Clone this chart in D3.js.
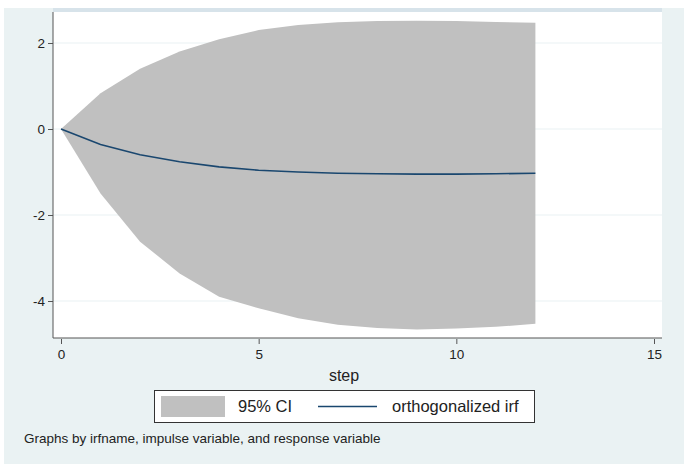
<!DOCTYPE html>
<html>
<head>
<meta charset="utf-8">
<script src="https://cdn.jsdelivr.net/npm/d3@7"></script>
<style>
  html, body { margin: 0; padding: 0; background: #fff; }
  svg { display: block; font-family: "Liberation Sans", Arial, sans-serif; }
</style>
</head>
<body>
<div id="chart"></div>
<script>
// irf values, step 0..12
const steps = [0, 1, 2, 3, 4, 5, 6, 7, 8, 9, 10, 11, 12]
const irf   = [0, -0.36, -0.60, -0.76, -0.88, -0.96, -1.00, -1.03, -1.04, -1.05, -1.05, -1.04, -1.03]
const ciUp  = [0, 0.83, 1.40, 1.80, 2.09, 2.30, 2.42, 2.48, 2.51, 2.52, 2.51, 2.49, 2.47]
const ciLo  = [0, -1.50, -2.62, -3.36, -3.90, -4.17, -4.40, -4.55, -4.63, -4.66, -4.64, -4.60, -4.53]
const xTicks = [0, 5, 10, 15]
const yTicks = [-4, -2, 0, 2]

const width = 686
const height = 464
const bgColor = "#eaf2f3"
const ciColor = "#c0c0c0"
const lineColor = "#1a476f"

const data = steps.map((s, i) => ({step: s, irf: irf[i], lo: ciLo[i], hi: ciUp[i]}))

const svg = d3.select("#chart").append("svg").attr("width", width).attr("height", height)

// outer background, white strip on top and left edge
svg.append("rect").attr("x", 0).attr("y", 0).attr("width", width).attr("height", height).attr("fill", "#fff")
svg.append("rect").attr("x", 4).attr("y", 8).attr("width", 680).attr("height", height - 8).attr("fill", bgColor)

const x = d3.scaleLinear().domain([0, 15]).range([61, 654])
const y = d3.scaleLinear().domain([-4, 2]).range([301, 43])

const plotLeft = 53, plotRight = 662, plotTop = 12, plotBottom = 338

// by-title band (cut off at top)
svg.append("rect").attr("x", plotLeft).attr("y", 8).attr("width", plotRight - plotLeft).attr("height", 4).attr("fill", "#d7e3ea")

// plot region
svg.append("rect").attr("x", plotLeft).attr("y", plotTop).attr("width", plotRight - plotLeft)
  .attr("height", plotBottom - plotTop).attr("fill", "#fff")

// grid lines
svg.append("g").selectAll("line").data(yTicks).join("line")
  .attr("x1", plotLeft).attr("x2", plotRight)
  .attr("y1", d => y(d)).attr("y2", d => y(d))
  .attr("stroke", bgColor).attr("stroke-width", 1.2)

// CI band
const area = d3.area()
  .x(d => x(d.step))
  .y0(d => y(d.lo))
  .y1(d => y(d.hi))
svg.append("path").datum(data).attr("fill", ciColor).attr("d", area)

// irf line
const line = d3.line().x(d => x(d.step)).y(d => y(d.irf))
svg.append("path").datum(data).attr("fill", "none").attr("stroke", lineColor)
  .attr("stroke-width", 1.6).attr("d", line)

// y axis
const yAxis = d3.axisLeft(y).tickValues(yTicks).tickSize(5).tickPadding(3).tickFormat(d3.format("d"))
const yg = svg.append("g").attr("transform", `translate(${plotLeft},0)`).call(yAxis)
yg.select(".domain").remove()
yg.append("line").attr("x1", 0).attr("x2", 0).attr("y1", plotTop).attr("y2", plotBottom).attr("stroke", "#555")
yg.selectAll(".tick line").attr("stroke", "#555")
yg.selectAll(".tick text").attr("font-size", 13.5).attr("fill", "#222")
  .text(d => d < 0 ? "-" + Math.abs(d) : d)

// x axis
const xAxis = d3.axisBottom(x).tickValues(xTicks).tickSize(5).tickPadding(5)
const xg = svg.append("g").attr("transform", `translate(0,${plotBottom + 1})`).call(xAxis)
xg.select(".domain").remove()
svg.append("line").attr("x1", plotLeft).attr("x2", plotRight).attr("y1", plotBottom).attr("y2", plotBottom).attr("stroke", "#555")
xg.selectAll(".tick line").attr("stroke", "#555")
xg.selectAll(".tick text").attr("font-size", 13.5).attr("fill", "#222")

svg.append("text").attr("x", 344).attr("y", 381).attr("text-anchor", "middle")
  .attr("font-size", 16).attr("fill", "#222").text("step")

// legend
const lg = svg.append("g")
lg.append("rect").attr("x", 154.5).attr("y", 390.5).attr("width", 380).attr("height", 32)
  .attr("fill", "#fff").attr("stroke", "#333")
lg.append("rect").attr("x", 161).attr("y", 396).attr("width", 64).attr("height", 21).attr("fill", ciColor)
lg.append("text").attr("x", 238).attr("y", 412).attr("font-size", 16.5).attr("fill", "#222").text("95% CI")
lg.append("line").attr("x1", 318).attr("x2", 377).attr("y1", 406.5).attr("y2", 406.5)
  .attr("stroke", lineColor).attr("stroke-width", 1.6)
lg.append("text").attr("x", 392).attr("y", 412).attr("font-size", 16.5).attr("fill", "#222").text("orthogonalized irf")

// note
svg.append("text").attr("x", 24).attr("y", 443).attr("font-size", 13.5).attr("fill", "#222")
  .text("Graphs by irfname, impulse variable, and response variable")
</script>
</body>
</html>
